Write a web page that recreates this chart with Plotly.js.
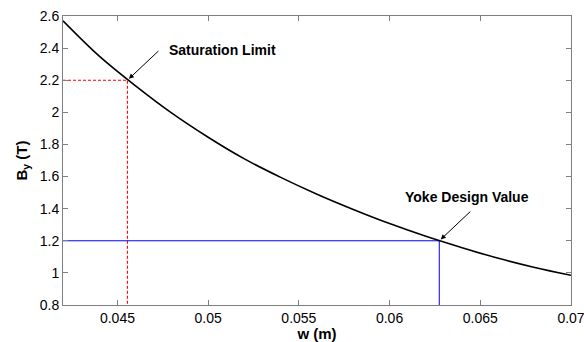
<!DOCTYPE html>
<html>
<head>
<meta charset="utf-8">
<script src="https://cdn.plot.ly/plotly-3.0.1.min.js"></script>
<style>html,body{margin:0;padding:0;background:#fff;}#chart{width:584px;height:342px;}</style>
</head>
<body>
<div id="chart"></div>
<script>
const w = [0.042, 0.044, 0.046, 0.048, 0.050, 0.052, 0.054, 0.056, 0.058, 0.060, 0.062, 0.064, 0.066, 0.068, 0.070];
const By = [2.57, 2.35, 2.165, 1.995, 1.845, 1.71, 1.595, 1.49, 1.395, 1.307, 1.228, 1.157, 1.091, 1.034, 0.985];

const satW = 0.04555, satB = 2.2;
const yokeW = 0.06274, yokeB = 1.2;
const xMin = 0.042, xMax = 0.07, yMin = 0.8, yMax = 2.6;

const xTickVals = [0.045, 0.05, 0.055, 0.06, 0.065, 0.07];
const xTickText = ['0.045', '0.05', '0.055', '0.06', '0.065', '0.07'];
const yTickVals = [0.8, 1, 1.2, 1.4, 1.6, 1.8, 2, 2.2, 2.4, 2.6];
const yTickText = ['0.8', '1', '1.2', '1.4', '1.6', '1.8', '2', '2.2', '2.4', '2.6'];

const FONT = 'Liberation Sans, Arial, sans-serif';

const traces = [
  {x: [xMin, satW, satW], y: [satB, satB, yMin], mode: 'lines', line: {color: '#ff0000', width: 1.1, dash: '3px,2px'}, hoverinfo: 'skip'},
  {x: [xMin, yokeW, yokeW], y: [yokeB, yokeB, yMin], mode: 'lines', line: {color: '#0000ff', width: 1}, hoverinfo: 'skip'},
  {x: w, y: By, mode: 'lines', line: {color: '#000000', width: 1.6, shape: 'spline'}, hoverinfo: 'skip'}
];

const axisCommon = {
  showgrid: false, zeroline: false, showline: true, linecolor: '#7f7f7f', linewidth: 1,
  mirror: 'ticks', ticks: 'inside', ticklen: 5, tickcolor: '#7f7f7f', tickwidth: 1,
  tickfont: {family: FONT, size: 14, color: '#000'}
};

const layout = {
  width: 584, height: 342,
  margin: {l: 63, r: 13, t: 16, b: 37},
  paper_bgcolor: '#fff', plot_bgcolor: '#fff',
  showlegend: false,
  xaxis: Object.assign({}, axisCommon, {
    range: [xMin, xMax], tickmode: 'array', tickvals: xTickVals, ticktext: xTickText,
    ticklabeloverflow: 'allow',
    title: {text: '<b>w (m)</b>', font: {family: FONT, size: 15, color: '#000'}, standoff: 2}
  }),
  yaxis: Object.assign({}, axisCommon, {
    range: [yMin, yMax], tickmode: 'array', tickvals: yTickVals, ticktext: yTickText,
    title: {text: '<b>B<sub>y</sub> (T)</b>', font: {family: FONT, size: 15, color: '#000'}, standoff: 8}
  }),
  annotations: [
    {x: 0.05078, y: 2.39, xref: 'x', yref: 'y', text: '<b>Saturation Limit</b>', showarrow: false,
     font: {family: FONT, size: 14, color: '#000'}},
    {x: satW, y: satB, xref: 'x', yref: 'y', text: ' ', showarrow: true, ax: 34, ay: -32,
     arrowhead: 2, arrowsize: 1, arrowwidth: 1, arrowcolor: '#000', standoff: 2},
    {x: 0.06429, y: 1.475, xref: 'x', yref: 'y', text: '<b>Yoke Design Value</b>', showarrow: false,
     font: {family: FONT, size: 14, color: '#000'}},
    {x: yokeW, y: yokeB, xref: 'x', yref: 'y', text: ' ', showarrow: true, ax: 34, ay: -32,
     arrowhead: 2, arrowsize: 1, arrowwidth: 1, arrowcolor: '#000', standoff: 2}
  ]
};

Plotly.newPlot('chart', traces, layout, {staticPlot: true, displayModeBar: false});
</script>
</body>
</html>
